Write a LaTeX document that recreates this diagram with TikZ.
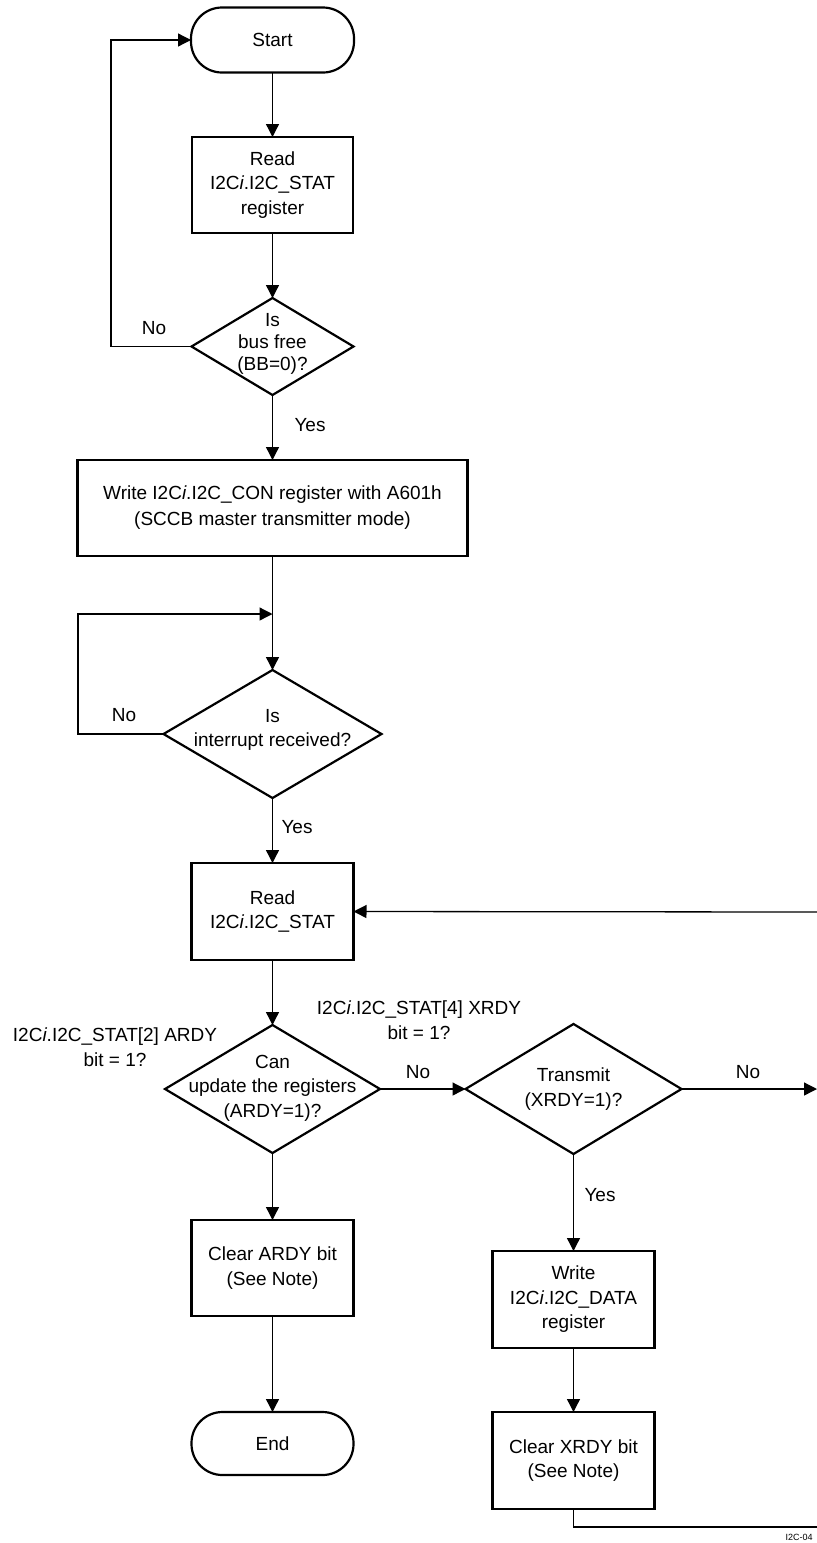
\documentclass[tikz,border=0pt]{standalone}
\usepackage{fontspec}
\setmainfont{Liberation Sans}
\usetikzlibrary{arrows.meta,shapes.geometric}
\begin{document}
\begin{tikzpicture}[x=1pt,y=-1pt,
  every node/.style={inner sep=0pt,outer sep=0pt},
  txt/.style={font=\fontsize{19}{24.5}\selectfont,align=center},
  boxn/.style={draw,line width=2.4pt,rectangle},
  termn/.style={draw,line width=2.2pt,rectangle,rounded corners=31pt},
  decn/.style={draw,line width=2.2pt,diamond},
  conn/.style={line width=1.3pt},
  arr/.style={conn,-{Triangle[length=13pt,width=13pt]}},
  lbl/.style={font=\fontsize{19}{24.5}\selectfont,align=center},
  tag/.style={font=\fontsize{9}{11}\selectfont}]
\useasboundingbox (0,0) rectangle (817,1543);
% shapes
\node[termn,minimum width=163pt,minimum height=65pt] (start) at (272.5,40) {};
\node[txt] (startt) at (start) {Start};
\node[boxn,minimum width=161pt,minimum height=96pt] (read1) at (272.5,185) {};
\node[txt] (read1t) at (read1) {Read\\I2C\textit{i}.I2C\_STAT\\register};
\node[decn,minimum width=162pt,minimum height=97pt] (bus) at (272.5,346.5) {};
\node[txt,font=\fontsize{19}{22}\selectfont] (bust) at (272.5,344) {Is\\bus free\\(BB=0)?};
\node[boxn,minimum width=390pt,minimum height=96pt] (write1) at (272.5,508) {};
\node[txt,font=\fontsize{19}{26}\selectfont] (write1t) at (write1) {Write I2C\textit{i}.I2C\_CON register with A601h\\(SCCB master transmitter mode)};
\coordinate (j1) at (272.5,614);
\node[decn,minimum width=218pt,minimum height=128pt] (intr) at (272.5,734) {};
\node[txt] (intrt) at (272.5,730) {Is\\interrupt received?};
\node[boxn,minimum width=162pt,minimum height=97pt] (read2) at (272.5,911.5) {};
\node[txt] (read2t) at (read2) {Read\\I2C\textit{i}.I2C\_STAT};
\node[decn,minimum width=215pt,minimum height=128pt] (upd) at (272.5,1089) {};
\node[txt] (updt) at (272.5,1088) {Can\\update the registers\\(ARDY=1)?};
\node[decn,minimum width=216pt,minimum height=130pt] (xmit) at (573.5,1089) {};
\node[txt] (xmitt) at (573.5,1089) {Transmit\\(XRDY=1)?};
\node[boxn,minimum width=162pt,minimum height=96pt] (clra) at (272.5,1268) {};
\node[txt] (clrat) at (clra) {Clear ARDY bit\\(See Note)};
\node[termn,minimum width=162pt,minimum height=63pt] (endn) at (272.5,1443.5) {};
\node[txt] (endt) at (endn) {End};
\node[boxn,minimum width=162pt,minimum height=97pt] (wdata) at (573.5,1299.5) {};
\node[txt] (wdatat) at (wdata) {Write\\I2C\textit{i}.I2C\_DATA\\register};
\node[boxn,minimum width=162pt,minimum height=97pt] (clrx) at (573.5,1460.5) {};
\node[txt] (clrxt) at (clrx) {Clear XRDY bit\\(See Note)};
% free-end coordinates
\coordinate (lx1) at (111,0);
\coordinate (lx2) at (78,0);
\coordinate (rin) at (817,912);
\coordinate (rout) at (817,1089);
\coordinate (bot) at (817,1527);
% connectors
\draw[arr] (start.south) -- (read1.north);
\draw[arr] (read1.south) -- (bus.north);
\draw[arr] (bus.west) -- (bus.west -| lx1) |- (start.west);
\draw[arr] (bus.south) -- (write1.north);
\draw[arr] (write1.south) -- (intr.north);
\draw[arr] (intr.west) -- (intr.west -| lx2) |- (j1);
\draw[arr] (intr.south) -- (read2.north);
\draw[arr] (read2.south) -- (upd.north);
\draw[arr] (upd.east) -- (xmit.west);
\draw[arr] (xmit.east) -- (rout);
\draw[arr] (rin) -- (read2.east);
\draw[arr] (xmit.south) -- (wdata.north);
\draw[arr] (wdata.south) -- (clrx.north);
\draw[conn] (clrx.south) |- (bot);
\draw[arr] (upd.south) -- (clra.north);
\draw[arr] (clra.south) -- (endn.north);
% labels
\node[lbl] (no1) at (154,328) {No};
\node[lbl] (yes1) at (310,425) {Yes};
\node[lbl] (no2) at (124,715) {No};
\node[lbl] (yes2) at (297,827) {Yes};
\node[lbl] (ardy) at (115,1047) {I2C\textit{i}.I2C\_STAT[2] ARDY\\bit = 1?};
\node[lbl] (xrdy) at (419,1020) {I2C\textit{i}.I2C\_STAT[4] XRDY\\bit = 1?};
\node[lbl] (no3) at (418,1072) {No};
\node[lbl] (no4) at (748,1072) {No};
\node[lbl] (yes3) at (600,1195) {Yes};
\node[tag] (fig) at (799,1537) {I2C-04};
\end{tikzpicture}
\end{document}
